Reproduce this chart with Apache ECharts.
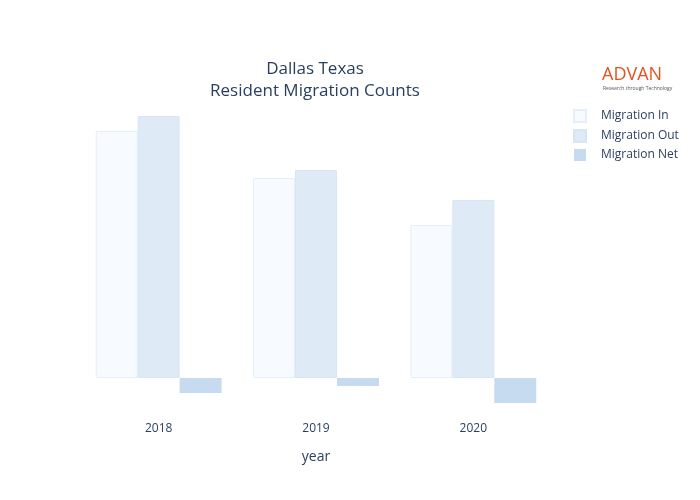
<!DOCTYPE html>
<html><head><meta charset="utf-8">
<script src="https://cdn.jsdelivr.net/npm/echarts@6/dist/echarts.min.js"></script>
<style>html,body{margin:0;padding:0;background:#fff}#c{width:700px;height:500px}</style>
</head><body><div id="c"></div>
<script>
const years = ['2018','2019','2020'];
const migrationIn = [247, 200, 153];
const migrationOut = [262, 208, 178];
const migrationNet = [-15, -8, -25];
const chart = echarts.init(document.getElementById('c'));
const font = '"Open Sans", Verdana, sans-serif';
chart.setOption({
  animation:false,
  textStyle:{fontFamily:font},
  legend:{orient:'vertical',left:568,top:104,itemGap:6,itemWidth:12,itemHeight:12,icon:'rect',
    textStyle:{fontFamily:font,fontSize:12,color:'#2a3f5f',padding:[0,0,0,10]}},
  graphic:[
    {type:'text',x:315,y:58,style:{text:'Dallas Texas\nResident Migration Counts',align:'center',
      fill:'#2a3f5f',font:'17px "Open Sans", sans-serif',lineHeight:22}},
    {type:'text',left:602,top:66,style:{text:'ADVAN',fill:'#e2531f',font:'18px "Open Sans", sans-serif'}},
    {type:'text',left:603,top:86,style:{text:'Research through Technology',fill:'#555',font:'5px "Open Sans", sans-serif'}}
  ],
  grid:{left:80,right:148,top:98,bottom:92},
  xAxis:{type:'category',data:years,name:'year',nameLocation:'middle',nameGap:42,
    nameTextStyle:{fontSize:14,color:'#2a3f5f'},
    axisLine:{show:false},axisTick:{show:false},
    axisLabel:{fontSize:12,color:'#2a3f5f',margin:15}},
  yAxis:{type:'value',min:-30,max:280,show:false,splitLine:{show:false}},
  series:[
    {name:'Migration In',type:'bar',data:migrationIn,barGap:'0%',barCategoryGap:'20%',
      itemStyle:{color:'#f7fbff',borderColor:'#e6eef8',borderWidth:1}},
    {name:'Migration Out',type:'bar',data:migrationOut,
      itemStyle:{color:'#deebf7',borderColor:'#d8e6f3',borderWidth:1}},
    {name:'Migration Net',type:'bar',data:migrationNet,
      itemStyle:{color:'#c6dbef'}}
  ]
});
</script></body></html>
